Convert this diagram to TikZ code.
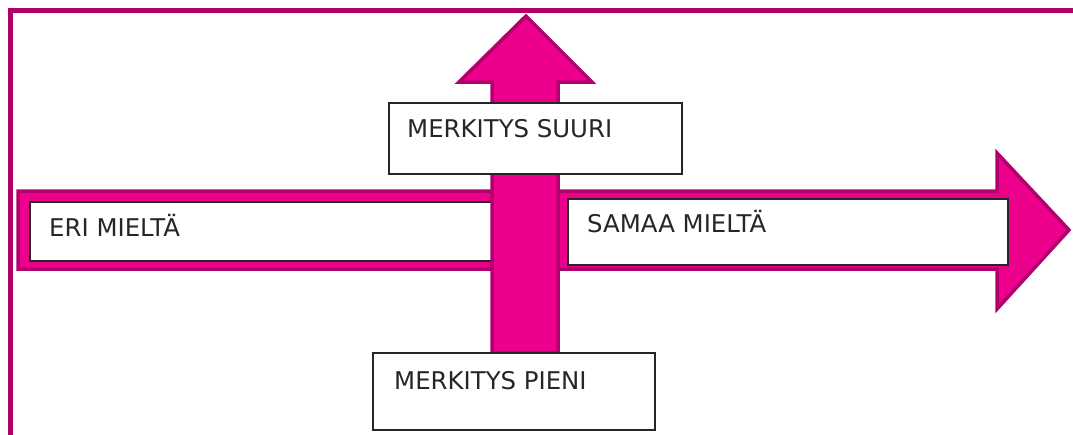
\documentclass[tikz,border=0pt]{standalone}
\usepackage{fontspec}
\setmainfont{DejaVu Sans}
\definecolor{arrfill}{RGB}{236,0,140}
\definecolor{arrline}{RGB}{178,0,108}
\definecolor{framec}{RGB}{176,0,106}
\begin{document}
\begin{tikzpicture}[x=1pt,y=-1pt,
  arrowshape/.style={fill=arrfill,draw=arrline,line width=3.5pt,line join=miter},
  box/.style={draw=black!85,fill=white,line width=1.4pt,inner sep=0pt},
  lbl/.style={font=\fontsize{24.4}{28}\selectfont,text=black!85,inner sep=0pt}]
\useasboundingbox (0,0) rectangle (1073,434);
\begin{scope}
\clip (0,0) rectangle (1073,434);
\draw[framec,line width=5pt] (10,10.5) rectangle (1090,450);
\end{scope}
% horizontal arrow
\draw[arrowshape] (18,191) -- (997,191) -- (997,153) -- (1069,230) -- (997,309) -- (997,269) -- (18,269) -- cycle;
\node[box,minimum width=464pt,minimum height=59pt] (eri) at (262,231.5) {};
\node[lbl,anchor=base west] (eritxt) at (49,236) {ERI MIELTÄ};
% vertical arrow
\draw[arrowshape] (492,353) -- (492,82) -- (459,82) -- (526,16) -- (592,82) -- (558,82) -- (558,353) -- cycle;
\node[box,minimum width=293pt,minimum height=71pt] (suuri) at (535.5,138.5) {};
\node[lbl,anchor=base west] (suuritxt) at (407,137.5) {MERKITYS SUURI};
\node[box,minimum width=440pt,minimum height=66pt] (samaa) at (788,232) {};
\node[lbl,anchor=base west] (samaatxt) at (587,232.5) {SAMAA MIELTÄ};
\node[box,minimum width=282pt,minimum height=77pt] (pieni) at (514,391.5) {};
\node[lbl,anchor=base west] (pienitxt) at (394,389) {MERKITYS PIENI};
\end{tikzpicture}
\end{document}
